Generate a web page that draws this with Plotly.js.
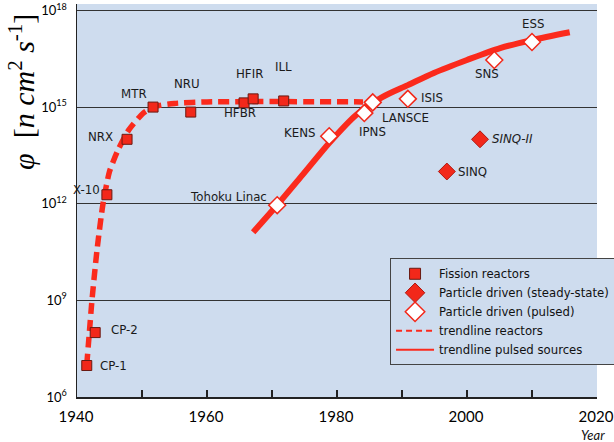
<!DOCTYPE html>
<html>
<head>
<meta charset="utf-8">
<script src="https://cdn.plot.ly/plotly-3.0.1.min.js"></script>
<style>html,body{margin:0;padding:0;background:#fff;}#chart{width:614px;height:442px;}</style>
</head>
<body>
<div id="chart"></div>
<script>
// ---- data ----
const fissionNames = ['CP-1','CP-2','X-10','NRX','MTR','NRU','HFBR','HFIR','ILL'];
const fissionYears = [1941.5, 1942.8, 1944.6, 1947.7, 1951.7, 1957.5, 1965.7, 1967.1, 1971.8];
const fissionFlux  = [9.5e6, 1.0e8, 1.9e12, 1.0e14, 1.0e15, 7.0e14, 1.35e15, 1.8e15, 1.55e15];

const steadyNames = ['SINQ','SINQ-II'];
const steadyYears = [1996.9, 2002.0];
const steadyFlux  = [1.0e13, 1.0e14];

const pulsedNames = ['Tohoku Linac','KENS','IPNS','LANSCE','ISIS','SNS','ESS'];
const pulsedYears = [1970.8, 1978.8, 1984.2, 1985.5, 1990.9, 2004.2, 2010.0];
const pulsedFlux  = [9.0e11, 1.25e14, 6.5e14, 1.4e15, 1.8e15, 2.9e16, 1.05e17];

const reactorTrendYears = [1941.5, 1941.9, 1942.3, 1943.1, 1944.0, 1945.0, 1946.3, 1948.0, 1950.2, 1952.0, 1955.0, 1960, 1970, 1984];
const reactorTrendFlux  = [1e7, 1e8, 1e9, 4e10, 1e12, 1e13, 4.6e13, 2e14, 6.5e14, 1.05e15, 1.3e15, 1.45e15, 1.48e15, 1.45e15];

const pulsedTrendYears = [1967.1, 1970.8, 1974.8, 1978.9, 1982.9, 1986.9, 1990.9, 1994.9, 2000.0, 2005.1, 2010.0, 2015.8];
const pulsedTrendFlux  = [1.3e11, 9.1e11, 8.3e12, 8.1e13, 5.6e14, 2.0e15, 4.8e15, 1.15e16, 2.9e16, 6.8e16, 1.2e17, 2.1e17];

const yTickVals = [1e6, 1e9, 1e12, 1e15, 1e18];
const yTickText = ['10<sup>6</sup>', '10<sup>9</sup>', '10<sup>12</sup>', '10<sup>15</sup>', '10<sup>18</sup>'];

// ---- label placement (style, not data) ----
const labelPlacement = {
  'CP-1': ['left', 11, 0], 'CP-2': ['left', 14, 3], 'X-10': ['right', -5, 5],
  'NRX': ['right', -12, 2], 'MTR': ['center', -19, 13], 'NRU': ['center', -4, 28],
  'HFBR': ['center', -4, -10], 'HFIR': ['center', -4, 25], 'ILL': ['center', 0, 34],
  'Tohoku Linac': ['right', -8, 8], 'KENS': ['right', -11, 3], 'IPNS': ['center', 8, -19],
  'LANSCE': ['left', 7, -16], 'ISIS': ['left', 11, 1], 'SNS': ['center', -7, -14],
  'ESS': ['center', 1, 18], 'SINQ-II': ['left', 10, 0], 'SINQ': ['left', 9, 0]
};
const italicLabels = ['SINQ-II'];

const RED = '#f2281a';
const LINE_RED = '#fb2a1c';
const BG = '#cedcee';
const labelFont = {family: 'DejaVu Sans, Liberation Sans, sans-serif', size: 11.8, color: '#1a1a1a'};

const traces = [
  {x: reactorTrendYears, y: reactorTrendFlux, mode: 'lines', line: {color: LINE_RED, width: 5.5, dash: '11px,6px', shape: 'spline', smoothing: 0.6}, showlegend: false, hoverinfo: 'skip'},
  {x: pulsedTrendYears, y: pulsedTrendFlux, mode: 'lines', line: {color: LINE_RED, width: 6, shape: 'spline', smoothing: 0.8}, showlegend: false, hoverinfo: 'skip'},
  {x: fissionYears, y: fissionFlux, mode: 'markers', marker: {symbol: 'square', size: 10, color: RED, line: {color: '#6a1a12', width: 1}}, showlegend: false},
  {x: steadyYears, y: steadyFlux, mode: 'markers', marker: {symbol: 'diamond', size: 13, color: RED, line: {color: '#b01810', width: 1}}, showlegend: false},
  {x: pulsedYears, y: pulsedFlux, mode: 'markers', marker: {symbol: 'diamond', size: 13, color: '#ffffff', line: {color: RED, width: 1.5}}, showlegend: false},
  // legend entries
  {x: [null], y: [null], mode: 'markers', name: 'Fission reactors', marker: {symbol: 'square', size: 11, color: RED, line: {color: '#6a1a12', width: 1}}},
  {x: [null], y: [null], mode: 'markers', name: 'Particle driven (steady-state)', marker: {symbol: 'diamond', size: 15, color: RED, line: {color: '#b01810', width: 1}}},
  {x: [null], y: [null], mode: 'markers', name: 'Particle driven (pulsed)', marker: {symbol: 'diamond', size: 15, color: '#ffffff', line: {color: RED, width: 1.5}}},
  {x: [null], y: [null], mode: 'lines', name: 'trendline reactors', line: {color: LINE_RED, width: 2, dash: '6px,4px'}},
  {x: [null], y: [null], mode: 'lines', name: 'trendline pulsed sources', line: {color: LINE_RED, width: 2}}
];

const annotations = [];
function addLabels(names, xs, ys) {
  names.forEach((n, i) => {
    const p = labelPlacement[n];
    annotations.push({
      x: xs[i], y: Math.log10(ys[i]), xref: 'x', yref: 'y',
      text: italicLabels.includes(n) ? '<i>' + n + '</i>' : n,
      showarrow: false, xanchor: p[0], yanchor: 'middle', xshift: p[1], yshift: p[2],
      font: labelFont
    });
  });
}
addLabels(fissionNames, fissionYears, fissionFlux);
addLabels(steadyNames, steadyYears, steadyFlux);
addLabels(pulsedNames, pulsedYears, pulsedFlux);

annotations.push({
  xref: 'paper', yref: 'paper', x: -0.106, y: 0.776, xanchor: 'center', yanchor: 'middle',
  textangle: -90, showarrow: false,
  text: '<i>φ</i>  [<i>n cm</i><sup>2</sup> <i>s</i><sup>-1</sup>]',
  font: {family: 'Liberation Serif, Times New Roman, serif', size: 30, color: '#000'}
});
annotations.push({
  xref: 'paper', yref: 'paper', x: 0.992, y: -0.0975, xanchor: 'center', yanchor: 'middle',
  showarrow: false, text: '<i>Year</i>',
  font: {family: 'Lato, Open Sans, sans-serif', size: 13, color: '#111'}
});

const layout = {
  width: 614, height: 442,
  margin: {l: 77, r: 17, t: 4, b: 45, pad: 0, autoexpand: false},
  paper_bgcolor: '#ffffff', plot_bgcolor: BG,
  showlegend: true,
  legend: {
    x: 0.602, y: 0.353, xanchor: 'left', yanchor: 'top',
    bgcolor: BG, bordercolor: '#444', borderwidth: 1, itemwidth: 38,
    font: {family: 'DejaVu Sans, Liberation Sans, sans-serif', size: 11.7, color: '#111'}
  },
  xaxis: {
    range: [1940, 2020], tick0: 1940, dtick: 20,
    ticks: 'inside', ticklen: 7, tickwidth: 1.5, tickcolor: '#222',
    minor: {dtick: 10, ticks: 'inside', ticklen: 7, tickwidth: 1.5, tickcolor: '#222', showgrid: false},
    showline: true, linecolor: '#222', linewidth: 1.5, showgrid: false, zeroline: false,
    tickfont: {family: 'Lato, Open Sans, sans-serif', size: 15, color: '#000'},
    ticklabelstandoff: 5, ticklabelshift: -1, ticklabeloverflow: 'allow'
  },
  yaxis: {
    type: 'log', range: [6, 18.2], tickvals: yTickVals, ticktext: yTickText,
    ticks: '', showline: true, linecolor: '#222', linewidth: 1.5,
    showgrid: true, gridcolor: '#333', gridwidth: 1, zeroline: false,
    tickfont: {family: 'Lato, Open Sans, sans-serif', size: 13, color: '#000'},
    ticklabelstandoff: 6
  },
  annotations: annotations
};

Plotly.newPlot('chart', traces, layout, {displayModeBar: false, staticPlot: true});
</script>
</body>
</html>
